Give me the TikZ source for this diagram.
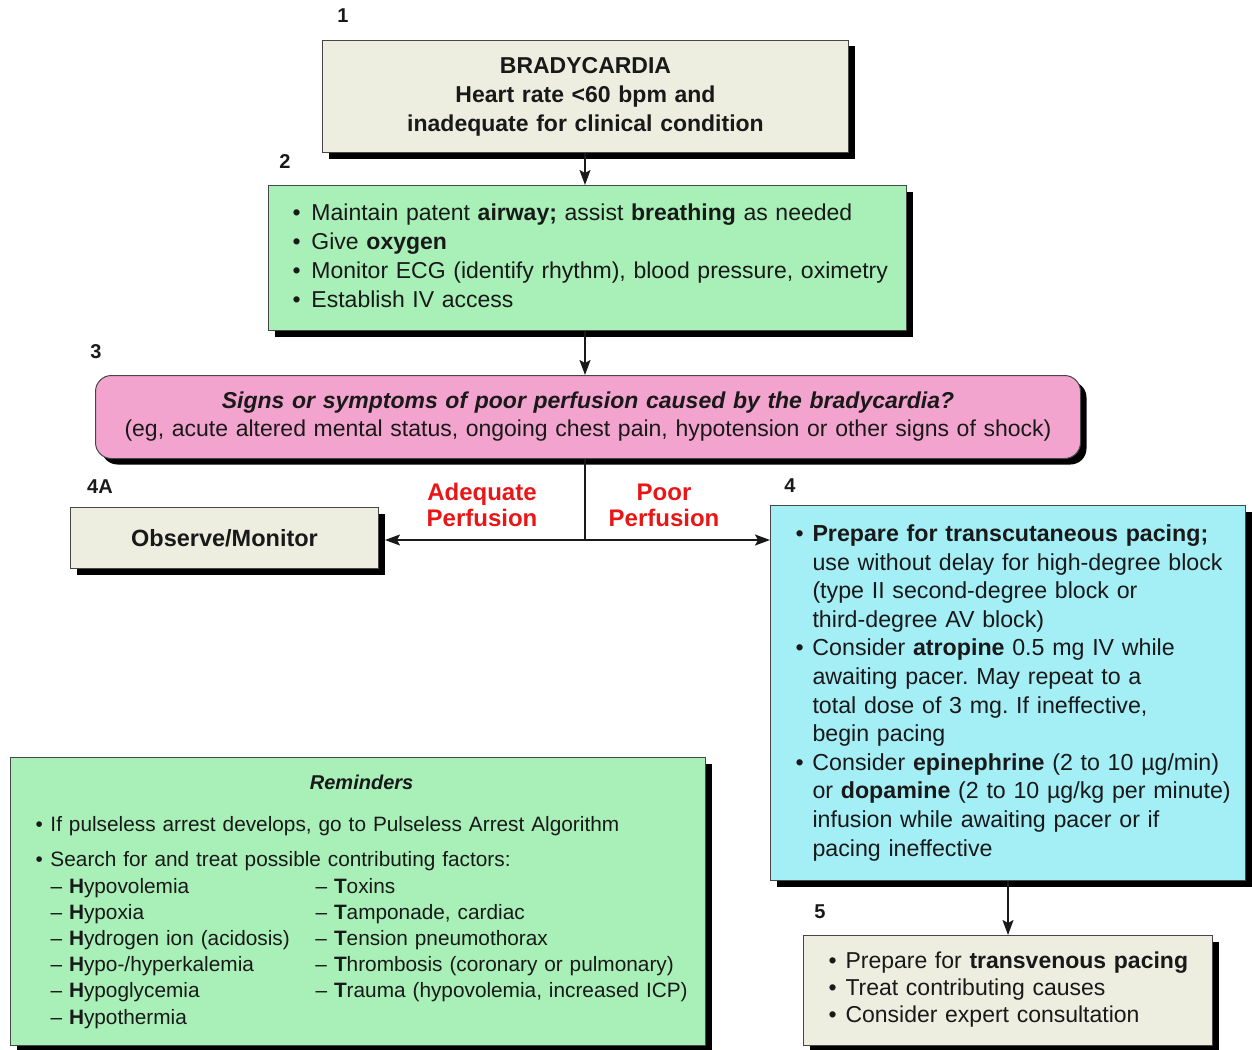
\documentclass[tikz,border=0pt]{standalone}
\usepackage{fontspec}
\setmainfont{Liberation Sans}
\usetikzlibrary{arrows.meta,shadows}
\frenchspacing

\definecolor{beige}{RGB}{237,238,224}
\definecolor{mint}{RGB}{168,240,184}
\definecolor{rose}{RGB}{243,164,206}
\definecolor{aqua}{RGB}{164,238,246}
\definecolor{alertred}{RGB}{232,22,22}
\definecolor{edge}{RGB}{70,70,70}
\definecolor{ink}{RGB}{25,25,25}

\begin{document}
\begin{tikzpicture}[x=1pt,y=-1pt,
  box/.style={draw=edge, line width=1pt, text=ink, anchor=north west,
    inner ysep=0pt,
    drop shadow={shadow xshift=6pt, shadow yshift=-6pt, fill=black, opacity=1}},
  body/.style={font=\fontsize{23}{29}\selectfont},
  stepno/.style={font=\bfseries\fontsize{20}{20}\selectfont, text=ink, inner sep=0pt},
  branch/.style={font=\bfseries\fontsize{24}{26}\selectfont, text=alertred,
    align=center, inner sep=0pt},
  flow/.style={line width=1.6pt, draw=ink},
  tip/.style={flow, -{Stealth[length=15pt,width=11pt,inset=3pt]}}]

\useasboundingbox (0,0) rectangle (1252,1049);

% 1: entry box
\node[box, fill=beige, body, text width=526pt, inner xsep=0pt,
      minimum height=112pt, align=center] (b1) at (322,40)
  {\textbf{BRADYCARDIA}\\ \textbf{Heart rate <60 bpm and}\\
   \textbf{inadequate for clinical condition}};

% 2: initial support
\node[box, fill=mint, body, text width=590pt, inner xsep=24pt,
      minimum height=145pt, align=left] (b2) at (268,185)
  {\begin{tabular}{@{}p{19pt}@{}l@{}}
   • & Maintain patent \textbf{airway;} assist \textbf{breathing} as needed\\
   • & Give \textbf{oxygen}\\
   • & Monitor ECG (identify rhythm), blood pressure, oximetry\\
   • & Establish IV access
   \end{tabular}};

% 3: perfusion question
\node[box, fill=rose, rounded corners=16pt,
      font=\fontsize{23}{28}\selectfont, text width=985pt, inner xsep=0pt,
      minimum height=83pt, align=center] (b3) at (95,375)
  {\textbf{\textit{Signs or symptoms of poor perfusion caused by the bradycardia?}}\\
   (eg, acute altered mental status, ongoing chest pain, hypotension or other signs of shock)};

% 4A: adequate perfusion
\node[box, fill=beige, font=\bfseries\fontsize{23.5}{28}\selectfont,
      text width=308pt, inner xsep=0pt, minimum height=61pt,
      align=center] (b4a) at (70,507) {Observe/Monitor};

% 4: poor perfusion
\node[box, fill=aqua, font=\fontsize{23.2}{28.6}\selectfont,
      text width=425pt, inner xsep=25pt, minimum height=375pt,
      align=left] (b4) at (770,505)
  {\begin{tabular}{@{}p{17pt}@{}l@{}}
   • & \textbf{Prepare for transcutaneous pacing;}\\
     & use without delay for high-degree block\\
     & (type II second-degree block or\\
     & third-degree AV block)\\
   • & Consider \textbf{atropine} 0.5 mg IV while\\
     & awaiting pacer. May repeat to a\\
     & total dose of 3 mg. If ineffective,\\
     & begin pacing\\
   • & Consider \textbf{epinephrine} (2 to 10 µg/min)\\
     & or \textbf{dopamine} (2 to 10 µg/kg per minute)\\
     & infusion while awaiting pacer or if\\
     & pacing ineffective
   \end{tabular}};

% 5: further steps
\node[box, fill=beige, font=\fontsize{23}{27}\selectfont,
      text width=359pt, inner xsep=25pt, minimum height=110pt,
      align=left] (b5) at (803,935)
  {\begin{tabular}{@{}p{17pt}@{}l@{}}
   • & Prepare for \textbf{transvenous pacing}\\
   • & Treat contributing causes\\
   • & Consider expert consultation
   \end{tabular}};

% Reminders panel
\node[box, fill=mint, font=\fontsize{20.8}{26.2}\selectfont,
      text width=645pt, inner xsep=25pt, minimum height=288pt,
      align=left] (rem) at (10,757)
  {\begin{tabular}{@{}p{15pt}@{}p{265pt}@{}l@{}}
   \multicolumn{3}{@{}c@{}}{\makebox[645pt][c]{\fontsize{20}{26.2}\selectfont\textbf{\textit{Reminders}}}}\\[16pt]
   • & \multicolumn{2}{@{}l@{}}{If pulseless arrest develops, go to Pulseless Arrest Algorithm}\\[9pt]
   • & \multicolumn{2}{@{}l@{}}{Search for and treat possible contributing factors:}\\
     & – \textbf{H}ypovolemia & – \textbf{T}oxins\\
     & – \textbf{H}ypoxia & – \textbf{T}amponade, cardiac\\
     & – \textbf{H}ydrogen ion (acidosis) & – \textbf{T}ension pneumothorax\\
     & – \textbf{H}ypo-/hyperkalemia & – \textbf{T}hrombosis (coronary or pulmonary)\\
     & – \textbf{H}ypoglycemia & – \textbf{T}rauma (hypovolemia, increased ICP)\\
     & – \textbf{H}ypothermia &
   \end{tabular}};

% step numbers
\node[stepno] (n1) at (343,16) {1};
\node[stepno] (n2) at (285,162) {2};
\node[stepno] (n3) at (96,352) {3};
\node[stepno] (n4a) at (100,487) {4A};
\node[stepno] (n4) at (790,486) {4};
\node[stepno] (n5) at (820,912) {5};

% branch labels
\node[branch] (adq) at (482,505) {Adequate\\Perfusion};
\node[branch] (poor) at (664,505) {Poor\\Perfusion};

% connectors
\coordinate (j) at (585,540);
\draw[tip] (b1.south -| j) -- (j |- b2.north);
\draw[tip] (b2.south -| j) -- (j |- b3.north);
\draw[flow] (b3.south -| j) -- (j);
\draw[tip] (j) -- ([xshift=6pt]j -| b4a.east);
\draw[tip] (j) -- (j -| b4.west);
\draw[tip] (b4.south) -- (b5.north);

\end{tikzpicture}
\end{document}
